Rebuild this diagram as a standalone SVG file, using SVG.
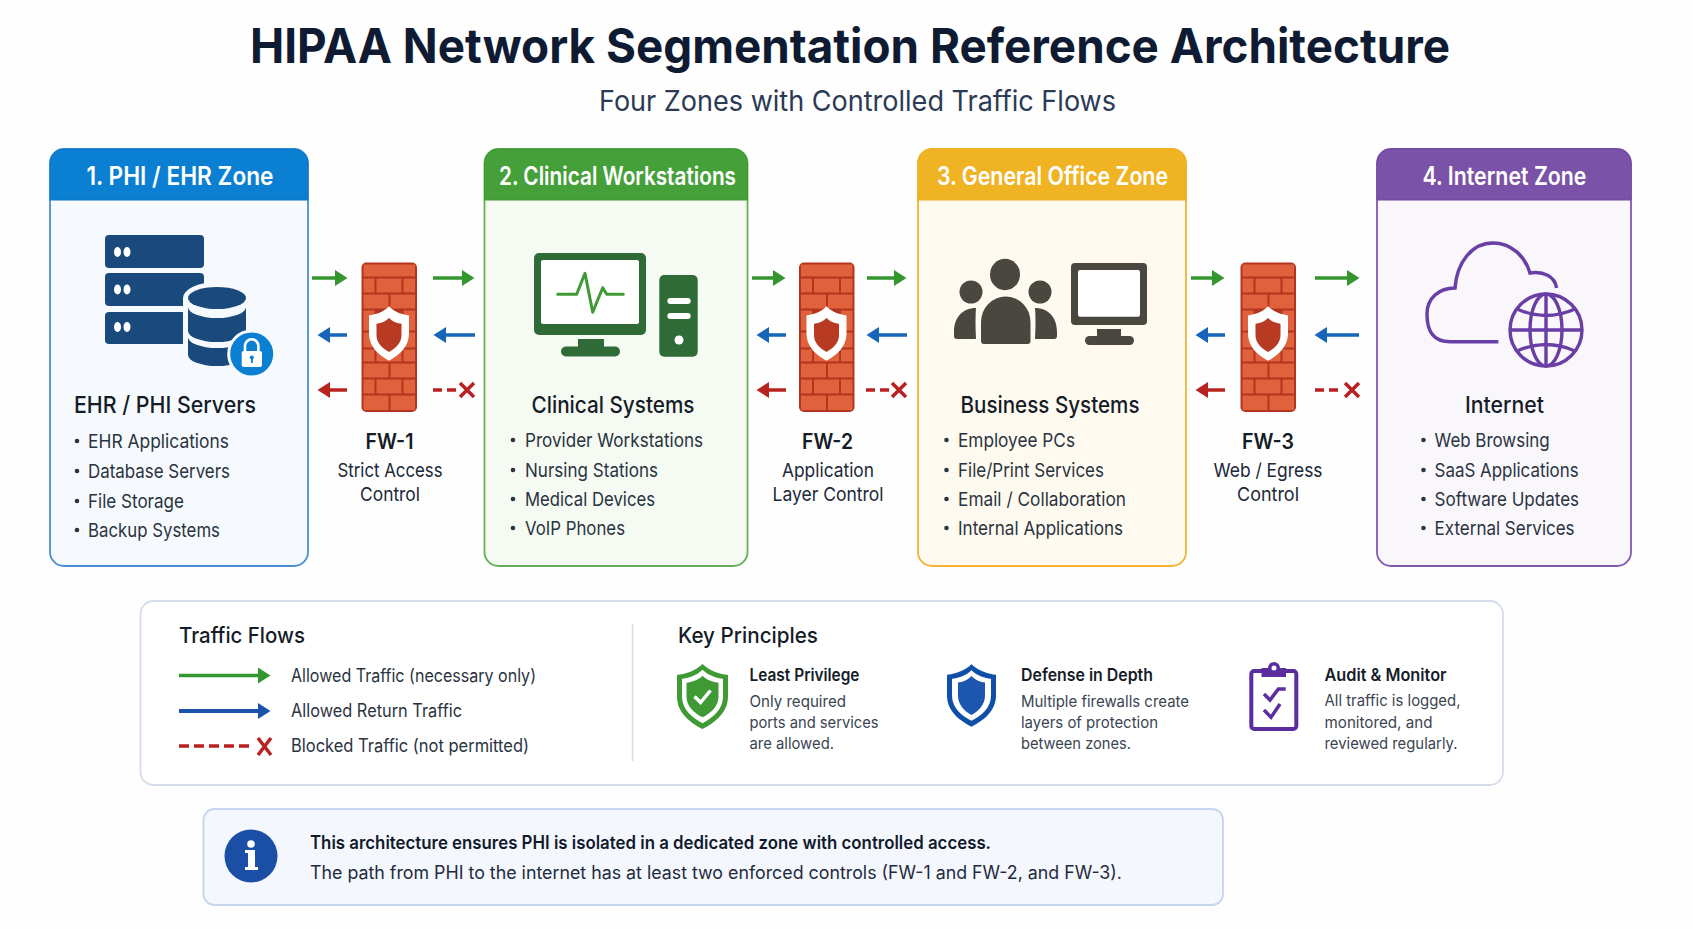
<svg xmlns="http://www.w3.org/2000/svg" width="1693" height="929" viewBox="0 0 1693 929">
<style>
text{font-family:Inter,"Liberation Sans",sans-serif;fill:#1f2937}
.title{font-size:48px;font-weight:700;fill:#0f1b33}
.sub{font-size:28px;font-weight:400;fill:#2b3a55}
.hd{font-size:25px;font-weight:600;fill:#fff;text-anchor:middle}
.sh{font-size:23px;font-weight:500;fill:#151c28}
.m{text-anchor:middle}
.li{font-size:19px;font-weight:400;fill:#2a3441}
.fwn{font-size:21px;font-weight:600;fill:#151c28;text-anchor:middle}
.fwd{font-size:19px;font-weight:400;fill:#20283a;text-anchor:middle}
.pt{font-size:22px;font-weight:500;fill:#151c28}
.lg{font-size:18px;fill:#2a3441}
.pn{font-size:17px;font-weight:600;fill:#151c28}
.pd{font-size:16px;fill:#3a4452}
.ib{font-size:18px;font-weight:600;fill:#111a2c}
.ir{font-size:18px;fill:#1f2a3d}
.card{stroke-width:1.8}
.bul{fill:#2a3441}
.ok{fill:none;stroke:#34962f;stroke-width:3.5}
.ret{fill:none;stroke:#1565b8;stroke-width:3.5}
.ret2{fill:none;stroke:#1b52ac;stroke-width:4}
.rev{fill:none;stroke:#b9231f;stroke-width:3.5}
.blk{fill:none;stroke:#b9201f;stroke-width:3.5;stroke-dasharray:9 5}
.x{fill:none;stroke:#b9201f;stroke-width:3.5}
.brick{fill:#e0623c}
</style>
<defs>
<marker id="hG" markerUnits="userSpaceOnUse" markerWidth="14" markerHeight="18" refX="4" refY="8" orient="auto"><path d="M0 0L12.5 8L0 16Z" fill="#34962f"/></marker>
<marker id="hB" markerUnits="userSpaceOnUse" markerWidth="14" markerHeight="18" refX="4" refY="8" orient="auto"><path d="M0 0L12.5 8L0 16Z" fill="#1565b8"/></marker>
<marker id="hB2" markerUnits="userSpaceOnUse" markerWidth="14" markerHeight="18" refX="4" refY="8" orient="auto"><path d="M0 0L12.5 8L0 16Z" fill="#1b52ac"/></marker>
<marker id="hR" markerUnits="userSpaceOnUse" markerWidth="14" markerHeight="18" refX="4" refY="8" orient="auto"><path d="M0 0L12.5 8L0 16Z" fill="#b9231f"/></marker>
<path id="sh" d="M0 -65C15 -50 35 -45 50 -43V0C50 32 25 52 0 65C-25 52 -50 32 -50 0V-43C-35 -45 -15 -50 0 -65Z"/>
<g id="fw">
<rect x="0" y="0" width="55.5" height="149.5" rx="5" fill="#b3351f"/>
<rect class="brick" x="2" y="2" width="51.5" height="12"/>
<rect class="brick" x="2" y="16" width="11" height="14"/><rect class="brick" x="15" y="16" width="25" height="14"/><rect class="brick" x="42" y="16" width="11.5" height="14"/>
<rect class="brick" x="2" y="32" width="25" height="14"/><rect class="brick" x="29" y="32" width="24.5" height="14"/>
<rect class="brick" x="2" y="48" width="11" height="20"/><rect class="brick" x="42" y="48" width="11.5" height="20"/>
<rect class="brick" x="2" y="70" width="11" height="15"/><rect class="brick" x="42" y="70" width="11.5" height="15"/>
<rect class="brick" x="2" y="87" width="11" height="12"/><rect class="brick" x="15" y="87" width="25" height="12"/><rect class="brick" x="42" y="87" width="11.5" height="12"/>
<rect class="brick" x="2" y="101" width="25" height="14"/><rect class="brick" x="29" y="101" width="24.5" height="14"/>
<rect class="brick" x="2" y="117" width="11" height="14"/><rect class="brick" x="15" y="117" width="25" height="14"/><rect class="brick" x="42" y="117" width="11.5" height="14"/>
<rect class="brick" x="2" y="133" width="25" height="14.5"/><rect class="brick" x="29" y="133" width="24.5" height="14.5"/>
<use href="#sh" transform="translate(27.5,71) scale(.4,.42)" fill="#fff"/>
<use href="#sh" transform="translate(27.5,72.5) scale(.25,.26)" fill="#b83a22"/>
</g>
</defs>
<rect width="1693" height="929" fill="#fefefe"/>

<g id="heading">
<text class="title" x="250" y="63" textLength="1200" lengthAdjust="spacingAndGlyphs">HIPAA Network Segmentation Reference Architecture</text>
<text class="sub" x="599" y="111" textLength="517" lengthAdjust="spacingAndGlyphs">Four Zones with Controlled Traffic Flows</text>
</g>

<g id="zone1">
<rect class="card" x="50" y="149" width="258" height="417" rx="14" fill="#f6fafe" stroke="#4a8ed2"/>
<path d="M50 200V163a14 14 0 0 1 14-14H294a14 14 0 0 1 14 14V200Z" fill="#0b7fd1" stroke="#0f76c6"/>
<text class="hd" x="180" y="185" textLength="187" lengthAdjust="spacingAndGlyphs">1. PHI / EHR Zone</text>
<g fill="#1a4a7c"><rect x="105" y="235" width="99" height="33" rx="4"/><rect x="105" y="273" width="99" height="33" rx="4"/><rect x="105" y="312" width="99" height="32" rx="4"/></g>
<g fill="#fff"><ellipse cx="117.5" cy="252" rx="3.5" ry="5"/><ellipse cx="127" cy="252" rx="3.5" ry="5"/><ellipse cx="117.5" cy="289.5" rx="3.5" ry="5"/><ellipse cx="127" cy="289.5" rx="3.5" ry="5"/><ellipse cx="117.5" cy="327" rx="3.5" ry="5"/><ellipse cx="127" cy="327" rx="3.5" ry="5"/></g>
<path d="M183 298A34 16 0 0 1 251 298V360H183Z" fill="#f6fafe"/>
<g fill="#1a4a7c"><ellipse cx="217" cy="298" rx="29" ry="11"/><path d="M188 307A29 11 0 0 0 246 307V331A29 11 0 0 1 188 331Z"/><path d="M188 337A29 11 0 0 0 246 337V355A29 11 0 0 1 188 355Z"/></g>
<circle cx="251.7" cy="354" r="23" fill="#0b7fd1" stroke="#f6fafe" stroke-width="3"/>
<path d="M245 352V346a6.7 6.7 0 0 1 13.4 0V352" fill="none" stroke="#fff" stroke-width="2.6"/>
<rect x="241.7" y="351" width="20.3" height="16" rx="2" fill="#fff"/>
<circle cx="251.8" cy="357.5" r="2" fill="#0b7fd1"/><rect x="251" y="358" width="1.8" height="5" fill="#0b7fd1"/>
<text class="sh" x="74" y="413" textLength="182" lengthAdjust="spacingAndGlyphs">EHR / PHI Servers</text>
<g class="bul"><circle cx="77" cy="441" r="2.3"/><circle cx="77" cy="471" r="2.3"/><circle cx="77" cy="501" r="2.3"/><circle cx="77" cy="530" r="2.3"/></g>
<text class="li" x="88" y="448" textLength="141" lengthAdjust="spacingAndGlyphs">EHR Applications</text>
<text class="li" x="88" y="478" textLength="142" lengthAdjust="spacingAndGlyphs">Database Servers</text>
<text class="li" x="88" y="508" textLength="96" lengthAdjust="spacingAndGlyphs">File Storage</text>
<text class="li" x="88" y="537" textLength="132" lengthAdjust="spacingAndGlyphs">Backup Systems</text>
</g>

<g id="zone2">
<rect class="card" x="484.5" y="149" width="263" height="417" rx="14" fill="#f5faf3" stroke="#66ae5a"/>
<path d="M484.5 200V163a14 14 0 0 1 14-14H733.5a14 14 0 0 1 14 14V200Z" fill="#46a03a" stroke="#3e9633"/>
<text class="hd" x="617.5" y="185" textLength="237" lengthAdjust="spacingAndGlyphs">2. Clinical Workstations</text>
<rect x="534" y="253" width="112" height="82" rx="5" fill="#2f6b36"/>
<rect x="541" y="260" width="98" height="64" rx="2" fill="#fff"/>
<rect x="578" y="339" width="26" height="10" fill="#2f6b36"/>
<rect x="561" y="346.5" width="59" height="10" rx="5" fill="#2f6b36"/>
<polyline points="557.7,294.3 576.7,294.3 585,273.3 592.7,312.3 602.7,287.7 606.7,294.3 623.3,294.3" fill="none" stroke="#3f9a36" stroke-width="3" stroke-linejoin="round" stroke-linecap="round"/>
<rect x="659.3" y="275" width="38.4" height="81.7" rx="5" fill="#2f6b36"/>
<rect x="667.3" y="298" width="23.4" height="6" rx="3" fill="#fff"/>
<rect x="667.3" y="313" width="23.4" height="6" rx="3" fill="#fff"/>
<circle cx="679" cy="340" r="4.5" fill="#fff"/>
<text class="sh m" x="613" y="413" textLength="163" lengthAdjust="spacingAndGlyphs">Clinical Systems</text>
<g class="bul"><circle cx="513" cy="440" r="2.3"/><circle cx="513" cy="470" r="2.3"/><circle cx="513" cy="499" r="2.3"/><circle cx="513" cy="528" r="2.3"/></g>
<text class="li" x="525" y="447" textLength="178" lengthAdjust="spacingAndGlyphs">Provider Workstations</text>
<text class="li" x="525" y="477" textLength="133" lengthAdjust="spacingAndGlyphs">Nursing Stations</text>
<text class="li" x="525" y="506" textLength="130" lengthAdjust="spacingAndGlyphs">Medical Devices</text>
<text class="li" x="525" y="535" textLength="100" lengthAdjust="spacingAndGlyphs">VoIP Phones</text>
</g>

<g id="zone3">
<rect class="card" x="918" y="149" width="268" height="417" rx="14" fill="#fffaf0" stroke="#f2b233"/>
<path d="M918 200V163a14 14 0 0 1 14-14H1172a14 14 0 0 1 14 14V200Z" fill="#f0b323" stroke="#eeae22"/>
<text class="hd" x="1052.5" y="185" textLength="231" lengthAdjust="spacingAndGlyphs">3. General Office Zone</text>
<g fill="#4a4640">
<ellipse cx="1005" cy="274.5" rx="15" ry="15.7"/>
<path d="M981 341V322a24.7 25.5 0 0 1 49.5 0V341a3 3 0 0 1-3 3H984a3 3 0 0 1-3-3Z"/>
<circle cx="971" cy="292" r="11.5"/><circle cx="1040" cy="292" r="11.5"/>
<path d="M976 308C962 308 954 318 954 332V336a3 3 0 0 0 3 3H976Q975 320 976 308Z"/>
<path d="M1035 308C1049 308 1057 318 1057 332V336a3 3 0 0 1-3 3H1035Q1036 320 1035 308Z"/>
<rect x="1071" y="263" width="76" height="62" rx="4"/>
<rect x="1097" y="329" width="24" height="9"/>
<rect x="1085" y="336" width="49" height="9" rx="4.5"/>
</g>
<rect x="1078" y="270" width="62" height="46.7" rx="2" fill="#fff"/>
<text class="sh m" x="1050" y="413" textLength="179" lengthAdjust="spacingAndGlyphs">Business Systems</text>
<g class="bul"><circle cx="946.5" cy="440" r="2.3"/><circle cx="946.5" cy="470" r="2.3"/><circle cx="946.5" cy="499" r="2.3"/><circle cx="946.5" cy="528" r="2.3"/></g>
<text class="li" x="958" y="447" textLength="117" lengthAdjust="spacingAndGlyphs">Employee PCs</text>
<text class="li" x="958" y="477" textLength="146" lengthAdjust="spacingAndGlyphs">File/Print Services</text>
<text class="li" x="958" y="506" textLength="168" lengthAdjust="spacingAndGlyphs">Email / Collaboration</text>
<text class="li" x="958" y="535" textLength="165" lengthAdjust="spacingAndGlyphs">Internal Applications</text>
</g>

<g id="zone4">
<rect class="card" x="1377" y="149" width="254" height="417" rx="14" fill="#f9f6fc" stroke="#8059ae"/>
<path d="M1377 200V163a14 14 0 0 1 14-14H1617a14 14 0 0 1 14 14V200Z" fill="#7a52a8" stroke="#6f479f"/>
<text class="hd" x="1504.5" y="185" textLength="164" lengthAdjust="spacingAndGlyphs">4. Internet Zone</text>
<path d="M1498.4 341.7H1450C1432 341.7 1427 330 1427 314C1427 298 1439 288 1455 288C1457 262 1472 243 1493 243C1511 243 1525 256 1530 273C1543 271 1555 276 1556.5 288" fill="none" stroke="#6a3fa5" stroke-width="3.5"/>
<g fill="none" stroke="#6a3fa5" stroke-width="3.4">
<circle cx="1546" cy="330" r="36"/><ellipse cx="1546" cy="330" rx="16" ry="36"/>
<path d="M1546 294V366M1510 330H1582M1517 309Q1546 322 1575 309M1517 351Q1546 338 1575 351"/>
</g>
<text class="sh m" x="1504.5" y="413" textLength="79" lengthAdjust="spacingAndGlyphs">Internet</text>
<g class="bul"><circle cx="1423.5" cy="440" r="2.3"/><circle cx="1423.5" cy="470" r="2.3"/><circle cx="1423.5" cy="499" r="2.3"/><circle cx="1423.5" cy="528" r="2.3"/></g>
<text class="li" x="1434.6" y="447" textLength="115" lengthAdjust="spacingAndGlyphs">Web Browsing</text>
<text class="li" x="1434.6" y="477" textLength="144" lengthAdjust="spacingAndGlyphs">SaaS Applications</text>
<text class="li" x="1434.6" y="506" textLength="144.5" lengthAdjust="spacingAndGlyphs">Software Updates</text>
<text class="li" x="1434.6" y="535" textLength="140" lengthAdjust="spacingAndGlyphs">External Services</text>
</g>

<g id="fw1">
<use href="#fw" x="361.5" y="262.5"/>
<text class="fwn" x="389.5" y="449" textLength="48" lengthAdjust="spacingAndGlyphs">FW-1</text>
<text class="fwd" x="390" y="477" textLength="105" lengthAdjust="spacingAndGlyphs">Strict Access</text>
<text class="fwd" x="390" y="501" textLength="60" lengthAdjust="spacingAndGlyphs">Control</text>
</g>
<g id="fw2">
<use href="#fw" x="799" y="262.5"/>
<text class="fwn" x="827.5" y="449" textLength="51" lengthAdjust="spacingAndGlyphs">FW-2</text>
<text class="fwd" x="828" y="477" textLength="92" lengthAdjust="spacingAndGlyphs">Application</text>
<text class="fwd" x="828" y="501" textLength="111" lengthAdjust="spacingAndGlyphs">Layer Control</text>
</g>
<g id="fw3">
<use href="#fw" x="1240.5" y="262.5"/>
<text class="fwn" x="1268" y="449" textLength="52" lengthAdjust="spacingAndGlyphs">FW-3</text>
<text class="fwd" x="1268" y="477" textLength="109" lengthAdjust="spacingAndGlyphs">Web / Egress</text>
<text class="fwd" x="1268" y="501" textLength="62" lengthAdjust="spacingAndGlyphs">Control</text>
</g>

<g id="connectors">
<path class="ok" d="M312 278H339" marker-end="url(#hG)"/><path class="ok" d="M433 278H466" marker-end="url(#hG)"/>
<path class="ret" d="M347 335H326" marker-end="url(#hB)"/><path class="ret" d="M475 335H442" marker-end="url(#hB)"/>
<path class="rev" d="M347 390H326" marker-end="url(#hR)"/>
<path class="blk" d="M433 390H456"/><path class="x" d="M460 383L474 397M474 383L460 397"/>
<path class="ok" d="M752 278H777" marker-end="url(#hG)"/><path class="ok" d="M867 278H898" marker-end="url(#hG)"/>
<path class="ret" d="M786 335H765" marker-end="url(#hB)"/><path class="ret" d="M907 335H875" marker-end="url(#hB)"/>
<path class="rev" d="M786 390H765" marker-end="url(#hR)"/>
<path class="blk" d="M866 390H889"/><path class="x" d="M892 383L906 397M906 383L892 397"/>
<path class="ok" d="M1191 278H1216" marker-end="url(#hG)"/><path class="ok" d="M1315 278H1351" marker-end="url(#hG)"/>
<path class="ret" d="M1225 335H1204" marker-end="url(#hB)"/><path class="ret" d="M1359 335H1323" marker-end="url(#hB)"/>
<path class="rev" d="M1225 390H1204" marker-end="url(#hR)"/>
<path class="blk" d="M1315 390H1338"/><path class="x" d="M1345 383L1359 397M1359 383L1345 397"/>
</g>

<g id="legend">
<rect x="140.5" y="601" width="1362.5" height="184" rx="13" fill="#fff" stroke="#d5dcec" stroke-width="1.8"/>
<path d="M632.5 624V761" stroke="#d5dcec" stroke-width="1.5" fill="none"/>
<text class="pt" x="179" y="643" textLength="126" lengthAdjust="spacingAndGlyphs">Traffic Flows</text>
<path class="ok" d="M179 675.5H262" marker-end="url(#hG)"/>
<path class="ret2" d="M179 711H262" marker-end="url(#hB2)"/>
<path class="blk" d="M179 746H252" style="stroke-dasharray:10 5"/><path class="x" d="M258 738L271 755M271 738L258 755"/>
<text class="lg" x="291" y="682" textLength="245" lengthAdjust="spacingAndGlyphs">Allowed Traffic (necessary only)</text>
<text class="lg" x="291" y="717" textLength="171" lengthAdjust="spacingAndGlyphs">Allowed Return Traffic</text>
<text class="lg" x="291" y="752" textLength="238" lengthAdjust="spacingAndGlyphs">Blocked Traffic (not permitted)</text>
<text class="pt" x="678" y="643" textLength="140" lengthAdjust="spacingAndGlyphs">Key Principles</text>
</g>

<g id="principle1">
<use href="#sh" transform="translate(702.5,696.5) scale(.51,.5)" fill="#3f9a36"/>
<use href="#sh" transform="translate(702.5,696.5) scale(.41,.41)" fill="#fff"/>
<use href="#sh" transform="translate(702.5,696.5) scale(.32,.32)" fill="#3f9a36"/>
<path d="M694.5 696.5L700.5 702.5L710.5 690.5" fill="none" stroke="#fff" stroke-width="3.5"/>
<text class="pn" x="749.5" y="681" textLength="110" lengthAdjust="spacingAndGlyphs">Least Privilege</text>
<text class="pd" x="749.5" y="707" textLength="96.5" lengthAdjust="spacingAndGlyphs">Only required</text>
<text class="pd" x="749.5" y="728" textLength="129" lengthAdjust="spacingAndGlyphs">ports and services</text>
<text class="pd" x="749.5" y="749" textLength="84.5" lengthAdjust="spacingAndGlyphs">are allowed.</text>
</g>
<g id="principle2">
<use href="#sh" transform="translate(971.5,695.5) scale(.49,.48)" fill="#0e4fa8"/>
<use href="#sh" transform="translate(971.5,695.5) scale(.39,.39)" fill="#fff"/>
<use href="#sh" transform="translate(971.5,695.5) scale(.27,.3)" fill="#1b57b0"/>
<text class="pn" x="1021" y="681" textLength="132" lengthAdjust="spacingAndGlyphs">Defense in Depth</text>
<text class="pd" x="1021" y="707" textLength="168" lengthAdjust="spacingAndGlyphs">Multiple firewalls create</text>
<text class="pd" x="1021" y="728" textLength="137" lengthAdjust="spacingAndGlyphs">layers of protection</text>
<text class="pd" x="1021" y="749" textLength="110" lengthAdjust="spacingAndGlyphs">between zones.</text>
</g>
<g id="principle3">
<rect x="1251.3" y="671" width="45" height="58" rx="3" fill="#fff" stroke="#5b2d9e" stroke-width="4"/>
<path d="M1261.5 677V668H1268a6 6 0 0 1 12 0H1286V677Z" fill="#5b2d9e"/>
<circle cx="1274" cy="668" r="2.5" fill="#fff"/>
<path d="M1264 694L1270 700L1278.4 689H1285.7M1264 710L1271 717.3L1280 704" fill="none" stroke="#5b2d9e" stroke-width="3.5"/>
<text class="pn" x="1324.5" y="681" textLength="122" lengthAdjust="spacingAndGlyphs">Audit &amp; Monitor</text>
<text class="pd" x="1324.5" y="706" textLength="136" lengthAdjust="spacingAndGlyphs">All traffic is logged,</text>
<text class="pd" x="1324.5" y="728" textLength="108" lengthAdjust="spacingAndGlyphs">monitored, and</text>
<text class="pd" x="1324.5" y="749" textLength="133" lengthAdjust="spacingAndGlyphs">reviewed regularly.</text>
</g>

<g id="info">
<rect x="203.5" y="809" width="1019.5" height="96" rx="11" fill="#f4f7fd" stroke="#c5d4ef" stroke-width="1.8"/>
<circle cx="251" cy="856" r="26.5" fill="#1b4fa6"/>
<circle cx="251" cy="844" r="3.8" fill="#fff"/>
<path d="M245 850H255V867H258V870H245V867H248V853H245Z" fill="#fff"/>
<text class="ib" x="310" y="849" textLength="681" lengthAdjust="spacingAndGlyphs">This architecture ensures PHI is isolated in a dedicated zone with controlled access.</text>
<text class="ir" x="310" y="879" textLength="812" lengthAdjust="spacingAndGlyphs">The path from PHI to the internet has at least two enforced controls (FW-1 and FW-2, and FW-3).</text>
</g>
</svg>
